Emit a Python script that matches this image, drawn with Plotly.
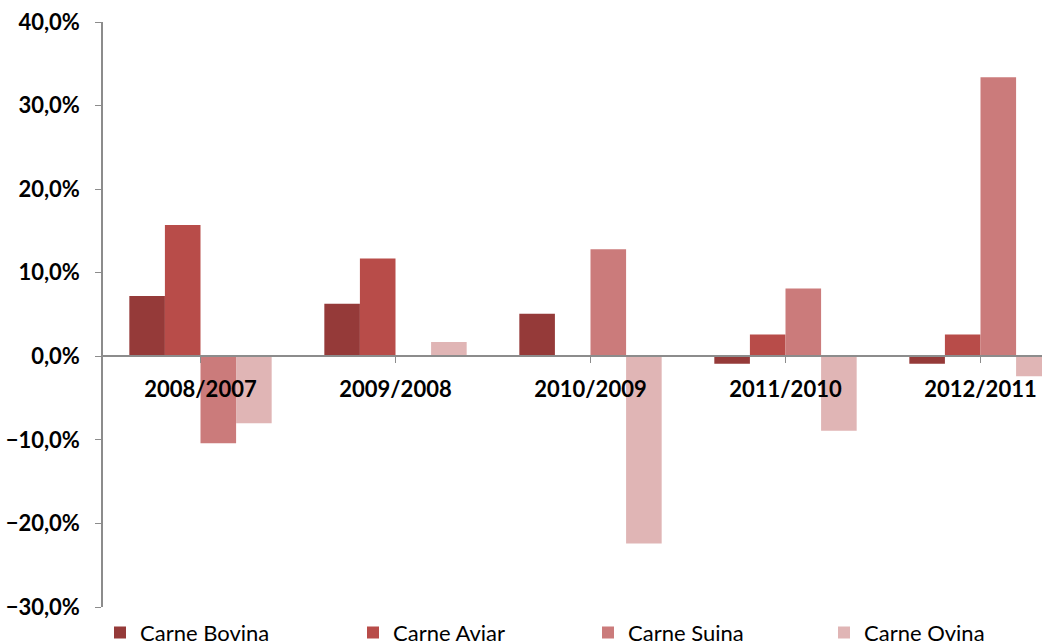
import plotly.graph_objects as go

categories = ["2008/2007", "2009/2008", "2010/2009", "2011/2010", "2012/2011"]
carne_bovina = [7.2, 6.3, 5.1, -0.9, -0.9]
carne_aviar = [15.7, 11.7, 0.0, 2.6, 2.6]
carne_suina = [-10.4, 0.0, 12.8, 8.1, 33.4]
carne_ovina = [-8.0, 1.7, -22.4, -8.9, -2.4]

series = [
    ("Carne Bovina", carne_bovina, "#953A39", "legend"),
    ("Carne Aviar", carne_aviar, "#B84C49", "legend2"),
    ("Carne Suina", carne_suina, "#CB7B7B", "legend3"),
    ("Carne Ovina", carne_ovina, "#E0B5B5", "legend4"),
]

W, H = 1042, 643
ml, mr, mt, mb = 103, 0, 22, 36
pw = W - ml - mr
ph = H - mt - mb

fig = go.Figure()
for name, vals, color, lg in series:
    fig.add_trace(go.Bar(x=list(range(len(categories))), y=vals, name=name,
                         marker=dict(color=color, line=dict(width=0)),
                         legend=lg))

ymin, ymax = -30, 40
zero_pos = (0 - ymin) / (ymax - ymin)

cat_px = 195.0
xr_right = -0.5 + pw / cat_px

font_family = "Lato, 'Open Sans', sans-serif"

legend_px = [100, 353, 588, 824]
legend_common = dict(orientation="h", yanchor="top", y=-0.008, xanchor="left",
                     font=dict(family=font_family, size=22, color="#000000"),
                     bgcolor="rgba(0,0,0,0)", itemwidth=30)
legends = {}
for i, px in enumerate(legend_px):
    key = "legend" if i == 0 else f"legend{i+1}"
    legends[key] = dict(legend_common, x=(px - ml) / pw)

fig.update_layout(
    width=W, height=H,
    margin=dict(l=ml, r=mr, t=mt, b=mb, autoexpand=False),
    paper_bgcolor="white", plot_bgcolor="white",
    barmode="group", bargap=0.27, bargroupgap=0,
    separators=",.",
    showlegend=True,
    **legends,
    xaxis=dict(
        tickmode="array", tickvals=list(range(len(categories))), ticktext=categories,
        range=[-0.5, xr_right],
        anchor="free", position=zero_pos,
        showline=True, linecolor="#8C8C8C", linewidth=1.5,
        ticks="outside", tickson="boundaries", ticklen=6, tickcolor="#8C8C8C",
        showgrid=False, zeroline=False,
        tickfont=dict(family=font_family, size=22, color="#000000", weight="bold"),
        ticklabelstandoff=8,
    ),
    yaxis=dict(
        range=[ymin, ymax], dtick=10, tick0=0,
        tickformat=".1f", ticksuffix="%",
        showline=True, linecolor="#8C8C8C", linewidth=1.5,
        ticks="outside", ticklen=6, tickcolor="#8C8C8C",
        showgrid=False, zeroline=False,
        tickfont=dict(family=font_family, size=22, color="#000000", weight="bold"),
        ticklabelstandoff=11,
    ),
)

fig.write_html("out.html", config={"displayModeBar": False},
               post_script="document.body.style.margin='0';document.body.style.overflow='hidden';")
